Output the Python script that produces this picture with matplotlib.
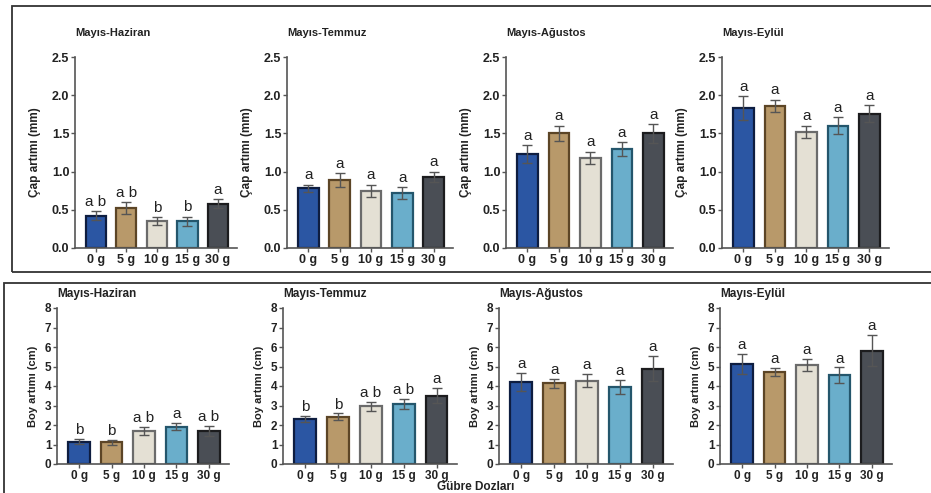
import matplotlib
matplotlib.use("Agg")
import matplotlib.pyplot as plt
from matplotlib.patches import Rectangle

plt.rcParams['font.family'] = ['Liberation Sans', 'DejaVu Sans']

doses = ["0 g", "5 g", "10 g", "15 g", "30 g"]
periods = ["Mayıs-Haziran", "Mayıs-Temmuz", "Mayıs-Ağustos", "Mayıs-Eylül"]

# Diameter increase (mm)
cap_means = [
    [0.42, 0.52, 0.35, 0.35, 0.58],
    [0.78, 0.89, 0.75, 0.72, 0.93],
    [1.23, 1.50, 1.18, 1.30, 1.50],
    [1.83, 1.86, 1.52, 1.60, 1.76],
]
cap_errs = [
    [0.06, 0.08, 0.05, 0.06, 0.06],
    [0.05, 0.09, 0.08, 0.08, 0.07],
    [0.12, 0.10, 0.08, 0.09, 0.12],
    [0.16, 0.08, 0.08, 0.11, 0.11],
]
cap_letters = [
    ["a b", "a b", "b", "b", "a"],
    ["a", "a", "a", "a", "a"],
    ["a", "a", "a", "a", "a"],
    ["a", "a", "a", "a", "a"],
]

# Height increase (cm)
boy_means = [
    [1.15, 1.11, 1.71, 1.92, 1.71],
    [2.31, 2.43, 2.95, 3.07, 3.51],
    [4.20, 4.13, 4.27, 3.95, 4.89],
    [5.12, 4.71, 5.09, 4.54, 5.82],
]
boy_errs = [
    [0.13, 0.14, 0.21, 0.20, 0.26],
    [0.14, 0.16, 0.25, 0.25, 0.38],
    [0.47, 0.22, 0.33, 0.36, 0.65],
    [0.51, 0.20, 0.30, 0.41, 0.80],
]
boy_letters = [
    ["b", "b", "a b", "a", "a b"],
    ["b", "b", "a b", "a b", "a"],
    ["a", "a", "a", "a", "a"],
    ["a", "a", "a", "a", "a"],
]

fill_colors = ["#2b56a3", "#b8996a", "#e4e0d4", "#6aaecb", "#4a4e55"]
edge_colors = ["#0e1d40", "#5c4526", "#6b6b6b", "#24566c", "#1c1c1e"]

W, H = 931, 493
fig = plt.figure(figsize=(W / 100, H / 100), dpi=100)

# framing boxes
fig.patches.append(Rectangle((12 / W, 1 - 272 / H), (960 - 12) / W, (272 - 6) / H,
                             transform=fig.transFigure, fill=False, lw=1.3,
                             edgecolor="#333333", clip_on=False))
fig.patches.append(Rectangle((4 / W, -0.05), (960 - 4) / W, 0.05 + (493 - 283) / H,
                             transform=fig.transFigure, fill=False, lw=1.3,
                             edgecolor="#333333", clip_on=False))


def make_ax(left, right, top, bottom):
    return fig.add_axes([left / W, 1 - bottom / H, (right - left) / W, (bottom - top) / H])


def draw(ax, means, errs, letters, ymax, yticks, ticklabels, ylabel, title,
         title_pad, letter_size, ylabelpad, ytick_size, ylabel_size, title_size,
         xtick_size, xtick_pad):
    x = list(range(len(doses)))
    ax.bar(x, means, width=0.66, color=fill_colors, edgecolor=edge_colors,
           linewidth=1.6, zorder=2)
    for i in x:
        ax.errorbar(i, means[i], yerr=errs[i], ecolor="#555555",
                    elinewidth=1.0, capsize=3.5, capthick=1.0, zorder=3, fmt="none")
        ax.text(i, means[i] + errs[i] + ymax * 0.012, letters[i], ha="center",
                va="bottom", fontsize=letter_size, color="#222222")
    ax.set_xlim(-0.68, 4.62)
    ax.set_ylim(0, ymax)
    ax.set_yticks(yticks)
    ax.set_yticklabels(ticklabels)
    ax.set_xticks(x)
    ax.set_xticklabels(doses)
    for s in ["top", "right"]:
        ax.spines[s].set_visible(False)
    for s in ["left", "bottom"]:
        ax.spines[s].set_color("#555555")
        ax.spines[s].set_linewidth(1.2)
    ax.tick_params(axis="y", length=3, width=1, color="#555555", pad=1,
                   labelsize=ytick_size, labelcolor="#222222")
    ax.tick_params(axis="x", length=3, width=1, color="#555555", pad=xtick_pad,
                   labelsize=xtick_size, labelcolor="#222222")
    for lab in ax.get_xticklabels() + ax.get_yticklabels():
        lab.set_fontweight("bold")
    ax.set_ylabel(ylabel, fontsize=ylabel_size, fontweight="bold", color="#222222",
                  labelpad=ylabelpad)
    ax.set_title(title, loc="left", fontsize=title_size, fontweight="bold",
                 color="#222222", pad=title_pad)


top_lefts = [75, 287, 506, 722]
top_rights = [237, 453, 673, 889]
for k in range(4):
    ax = make_ax(top_lefts[k], top_rights[k], 57, 248)
    draw(ax, cap_means[k], cap_errs[k], cap_letters[k], 2.5,
         [0, 0.5, 1.0, 1.5, 2.0, 2.5], ["0.0", "0.5", "1.0", "1.5", "2.0", "2.5"],
         "Çap artımı (mm)", periods[k], 15, 11, 8, 9, 8.5, 8, 9, 1.5)

bot_lefts = [57, 283, 499, 720]
bot_rights = [229, 457, 673, 892]
for k in range(4):
    ax = make_ax(bot_lefts[k], bot_rights[k], 308, 464)
    draw(ax, boy_means[k], boy_errs[k], boy_letters[k], 8,
         list(range(9)), [str(v) for v in range(9)],
         "Boy artımı (cm)", periods[k], 8, 11, 5, 8.5, 8, 8.5, 8.5, 1)

fig.text(476 / W, 1 - 487 / H, "Gübre Dozları", ha="center", va="center",
         fontsize=8.5, fontweight="bold", color="#222222")

fig.savefig("out.png", dpi=100)
